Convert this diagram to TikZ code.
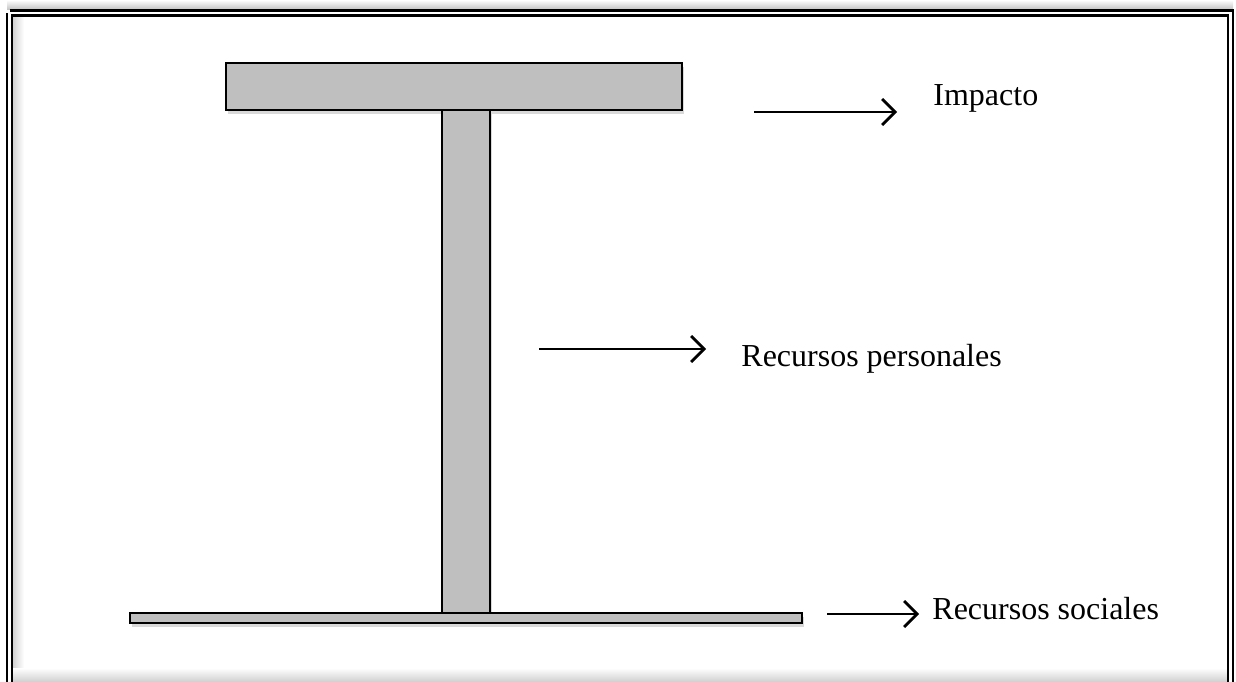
\documentclass[tikz,border=0pt]{standalone}
\usepackage{fontspec}
\setmainfont{Liberation Serif}
\usetikzlibrary{arrows.meta,shadows}
\begin{document}
\begin{tikzpicture}[x=0.5pt,y=-0.5pt,
  bar/.style={draw=black, line width=1pt, fill=gray!50, inner sep=0pt, rectangle,
    drop shadow={opacity=0.3, shadow xshift=1.2pt, shadow yshift=-2pt}},
  lbl/.style={font=\fontsize{16pt}{19pt}\selectfont, anchor=base west, inner sep=0pt},
  arr/.style={-{Straight Barb[length=6.5pt,width=13pt,line width=1.4pt]}, line width=1.4pt}]
\useasboundingbox (0,0) rectangle (1236,681);
% frame shadows
\shade[top color=white, bottom color=gray!45] (7,0) rectangle (1233,9);
\shade[left color=gray!35, right color=white] (13,16) rectangle (24,681);
\shade[top color=white, bottom color=gray!35] (13,668) rectangle (1228,681);
% frame
\draw[line width=1.4pt, double=white, double distance=1.1pt] (9.5,13) -- (9.5,690) (9.5,13) -- (1230.5,13) -- (1230.5,690);
% bars
\node[bar, minimum width=228pt, minimum height=23.5pt] (top) at (454,86.5) {};
\node[bar, minimum width=24pt, minimum height=251.5pt] (stem) at (466,361.5) {};
\node[bar, minimum width=336pt, minimum height=5pt] (base) at (466,618) {};
% labels
\node[lbl] (impacto) at (933,105) {Impacto};
\node[lbl] (personales) at (741,366) {Recursos personales};
\node[lbl] (sociales) at (932,619) {Recursos sociales};
% arrows
\coordinate (a1s) at (754,112);
\coordinate (a1e) at (897,112);
\coordinate (a2s) at (539,349);
\coordinate (a2e) at (706,349);
\coordinate (a3s) at (827,614);
\coordinate (a3e) at (919,614);
\draw[arr] (a1s) -- (a1e);
\draw[arr] (a2s) -- (a2e);
\draw[arr] (a3s) -- (a3e);
\end{tikzpicture}
\end{document}
